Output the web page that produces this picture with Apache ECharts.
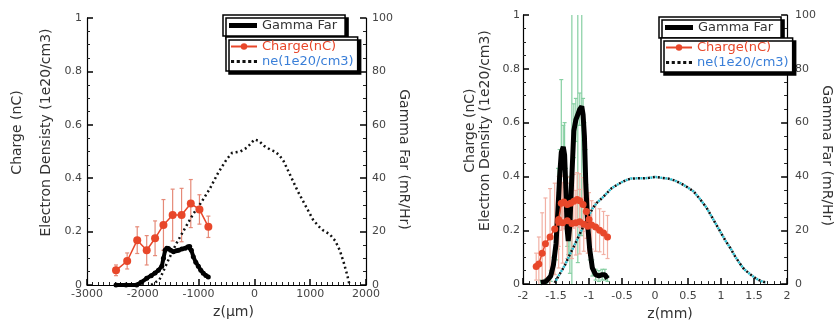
<!DOCTYPE html>
<html>
<head>
<meta charset="utf-8">
<script src="https://cdn.jsdelivr.net/npm/echarts@6/dist/echarts.min.js"></script>
<style>
  html, body { margin: 0; padding: 0; background: #fff; }
  #chart { width: 835px; height: 326px; }
</style>
</head>
<body>
<div id="chart"></div>
<script>
// left panel, z in um
const leftChargeZ = [-2480, -2280, -2100, -1930, -1780, -1630, -1465, -1305, -1140, -985, -825];
const leftChargeVal = [0.055, 0.09, 0.168, 0.13, 0.175, 0.225, 0.262, 0.262, 0.305, 0.283, 0.218];
const leftChargeErr = [0.02, 0.03, 0.05, 0.055, 0.065, 0.095, 0.097, 0.1, 0.09, 0.055, 0.04];

const leftGammaZ = [-2480, -2300, -2110, -2030, -1930, -1850, -1780, -1720, -1660, -1630, -1600, -1570, -1540, -1500, -1450,
  -1400, -1360, -1300, -1240, -1190, -1160, -1130, -1095, -1050, -1005, -960, -916, -870, -826];
const leftGammaVal = [0, 0, 0, 1, 2.5, 3.5, 4.5, 5.5, 7, 10, 13, 13.8, 13.7, 13, 12.5,
  12.8, 13, 13.5, 13.8, 14.3, 14.4, 13, 10.6, 8.5, 7, 5.5, 4.4, 3.6, 3];

const leftNeZ = [-1850, -1700, -1550, -1400, -1250, -1100, -950, -800, -650, -500, -400, -250, -130, 0, 80, 180, 300,
  370, 450, 520, 600, 690, 780, 870, 960, 1050, 1150, 1230, 1350, 1450, 1530, 1600, 1660, 1700];
const leftNeVal = [0, 0.02, 0.09, 0.155, 0.21, 0.265, 0.31, 0.36, 0.42, 0.47, 0.495, 0.5, 0.515, 0.545, 0.54, 0.52, 0.505,
  0.5, 0.485, 0.465, 0.43, 0.39, 0.35, 0.315, 0.28, 0.245, 0.22, 0.205, 0.19, 0.165, 0.13, 0.085, 0.04, 0.005];

// right panel, z in mm
const rightGammaZ = [-1.73, -1.65, -1.58, -1.54, -1.5, -1.47, -1.445, -1.42, -1.39, -1.37, -1.35, -1.33, -1.315, -1.29, -1.26,
  -1.23, -1.2, -1.17, -1.14, -1.11, -1.09, -1.07, -1.05, -1.02, -0.99, -0.95, -0.9, -0.85, -0.8, -0.76, -0.72];
const rightGammaVal = [0.5, 1, 3, 7, 15, 28, 40, 49, 51, 48, 35, 20, 16, 22, 40,
  57, 61, 63, 65, 66, 63, 55, 38, 22, 13, 6, 3.5, 3, 3.5, 3.5, 2];
const rightGammaErr = [1, 1, 2, 3, 6, 15, 10, 27, 8, 12, 8, 6, 5, 18, 70,
  10, 8, 55, 6, 48, 6, 5, 12, 5, 4, 3, 2, 2, 2, 2, 1];

const rightChargeZ = [-1.8, -1.76, -1.71, -1.66, -1.59, -1.52, -1.46, -1.4, -1.33, -1.26, -1.2, -1.14, -1.08, -1.02,
  -0.96, -0.9, -0.84, -0.78, -0.72];
const rightChargeVal = [0.065, 0.075, 0.115, 0.15, 0.175, 0.205, 0.23, 0.228, 0.235, 0.225, 0.228, 0.232, 0.222, 0.215,
  0.22, 0.212, 0.2, 0.19, 0.175];
const rightChargeErr = [0.05, 0.1, 0.15, 0.17, 0.18, 0.17, 0.17, 0.15, 0.14, 0.13, 0.12, 0.12, 0.1, 0.1,
  0.09, 0.09, 0.08, 0.08, 0.08];

const rightCharge2Z = [-1.46, -1.42, -1.38, -1.33, -1.28, -1.23, -1.18, -1.14, -1.09, -1.04, -1.0];
const rightCharge2Val = [0.24, 0.3, 0.305, 0.296, 0.3, 0.308, 0.314, 0.31, 0.296, 0.27, 0.24];
const rightCharge2Err = [0.1, 0.1, 0.1, 0.1, 0.1, 0.1, 0.1, 0.1, 0.1, 0.1, 0.1];

const rightNeZ = [-1.52, -1.45, -1.37, -1.3, -1.23, -1.16, -1.09, -1.01, -0.94, -0.87, -0.8, -0.73, -0.66, -0.58, -0.51,
  -0.44, -0.37, -0.28, -0.18, -0.09, 0.01, 0.1, 0.2, 0.3, 0.39, 0.49, 0.585, 0.68, 0.78, 0.85, 0.92, 0.99, 1.06, 1.14,
  1.21, 1.28, 1.35, 1.45, 1.54, 1.62, 1.68];
const rightNeVal = [0.005, 0.035, 0.068, 0.105, 0.14, 0.176, 0.212, 0.25, 0.284, 0.305, 0.32, 0.338, 0.356, 0.368, 0.378,
  0.386, 0.392, 0.393, 0.393, 0.395, 0.398, 0.395, 0.392, 0.385, 0.374, 0.36, 0.344, 0.316, 0.284, 0.254, 0.224, 0.194,
  0.164, 0.134, 0.104, 0.078, 0.055, 0.035, 0.019, 0.01, 0.006];

const RED = '#e8472a';
const FONT = 'DejaVu Sans';
const DOTS = 'path://M0,0h3v3h-3z M5.5,0h3v3h-3z M11,0h3v3h-3z M16.5,0h3v3h-3z M22,0h3v3h-3z';

const zip = (xs, ys) => xs.map((x, i) => [x, ys[i]]);
const errData = (xs, ys, es) => xs.map((x, i) => [x, ys[i] - es[i], ys[i] + es[i]]);

function errRender(cap) {
  return function (params, api) {
    const x = api.value(0);
    const a = api.coord([x, api.value(1)]);
    const b = api.coord([x, api.value(2)]);
    const style = { stroke: api.visual('color'), lineWidth: 1.2, fill: null };
    return {
      type: 'group',
      children: [
        { type: 'line', shape: { x1: a[0], y1: a[1], x2: b[0], y2: b[1] }, style: style },
        { type: 'line', shape: { x1: a[0] - cap, y1: a[1], x2: a[0] + cap, y2: a[1] }, style: style },
        { type: 'line', shape: { x1: b[0] - cap, y1: b[1], x2: b[0] + cap, y2: b[1] }, style: style }
      ]
    };
  };
}

const axisCommon = {
  axisLine: { show: true, onZero: false, lineStyle: { color: '#000', width: 1.2 } },
  axisTick: { show: true, inside: true, length: 6, lineStyle: { color: '#000', width: 1.5 } },
  minorTick: { show: true, length: 3, lineStyle: { color: '#222', width: 1 } },
  splitLine: { show: false },
  axisLabel: { color: '#444', fontSize: 11, fontFamily: FONT, formatter: v => String(v) },
  nameTextStyle: { color: '#333', fontSize: 14, fontFamily: FONT }
};

function legendBox(left, top, extra) {
  return Object.assign({
    left: left, top: top,
    orient: 'vertical',
    selectedMode: false,
    backgroundColor: '#fff',
    borderColor: '#000',
    borderWidth: 1.5,
    borderRadius: 0,
    shadowColor: '#000',
    shadowBlur: 0,
    shadowOffsetX: 3,
    shadowOffsetY: 3,
    textStyle: { fontSize: 13, fontFamily: FONT },
    itemGap: 2
  }, extra);
}

const neLegend = { name: 'ne(1e20/cm3)', icon: DOTS, textStyle: { color: '#3a7fd8' } };
const chargeLegend = { name: 'Charge(nC)', textStyle: { color: RED } };
const gammaLegend = { name: 'Gamma Far', icon: 'rect', textStyle: { color: '#333' } };

const minor = n => Object.assign({}, axisCommon.minorTick, { splitNumber: n });

const option = {
  animation: false,
  textStyle: { fontFamily: FONT },
  grid: [
    { left: 87, right: 469, top: 18, bottom: 41 },
    { left: 523, right: 33, top: 15, bottom: 34 }
  ],
  xAxis: [
    Object.assign({}, axisCommon, {
      gridIndex: 0, type: 'value', min: -3000, max: 2000, interval: 1000, minorTick: minor(10),
      axisLabel: Object.assign({}, axisCommon.axisLabel, { margin: 4 }),
      name: 'z(μm)', nameLocation: 'middle', nameGap: 20,
      nameTextStyle: Object.assign({}, axisCommon.nameTextStyle, { padding: [0, 0, 0, 14] })
    }),
    Object.assign({}, axisCommon, {
      gridIndex: 1, type: 'value', min: -2, max: 2, interval: 0.5, minorTick: minor(5),
      axisLabel: Object.assign({}, axisCommon.axisLabel, { margin: 7 }),
      name: 'z(mm)', nameLocation: 'middle', nameGap: 21,
      nameTextStyle: Object.assign({}, axisCommon.nameTextStyle, { padding: [0, 0, 0, 30] })
    })
  ],
  yAxis: [
    Object.assign({}, axisCommon, {
      gridIndex: 0, type: 'value', min: 0, max: 1, interval: 0.2, position: 'left', minorTick: minor(4),
      axisLabel: Object.assign({}, axisCommon.axisLabel, { margin: 5 }),
      name: 'Charge (nC)\nElectron Densisty (1e20/cm3)', nameLocation: 'middle', nameGap: 25,
      nameTextStyle: Object.assign({}, axisCommon.nameTextStyle, { lineHeight: 29, padding: [0, 0, 0, 38] })
    }),
    Object.assign({}, axisCommon, {
      gridIndex: 0, type: 'value', min: 0, max: 100, interval: 20, position: 'right', minorTick: minor(4),
      axisLabel: Object.assign({}, axisCommon.axisLabel, { margin: 6 }),
      name: 'Gamma Far (mR/Hr)', nameLocation: 'middle', nameGap: 28, nameRotate: -90,
      nameTextStyle: Object.assign({}, axisCommon.nameTextStyle, { padding: [0, 0, 0, 16] })
    }),
    Object.assign({}, axisCommon, {
      gridIndex: 1, type: 'value', min: 0, max: 1, interval: 0.2, position: 'left', minorTick: minor(4),
      axisLabel: Object.assign({}, axisCommon.axisLabel, { margin: 3 }),
      name: 'Charge (nC)\nElectron Density (1e20/cm3)', nameLocation: 'middle', nameGap: 30,
      nameTextStyle: Object.assign({}, axisCommon.nameTextStyle, { lineHeight: 15, padding: [0, 0, 0, 38] })
    }),
    Object.assign({}, axisCommon, {
      gridIndex: 1, type: 'value', min: 0, max: 100, interval: 20, position: 'right', minorTick: minor(4),
      axisLabel: Object.assign({}, axisCommon.axisLabel, { margin: 8 }),
      name: 'Gamma Far (mR/Hr)', nameLocation: 'middle', nameGap: 18, nameRotate: -90,
      nameTextStyle: Object.assign({}, axisCommon.nameTextStyle, { padding: [0, 0, 0, 12] })
    })
  ],
  legend: [
    legendBox(223, 15, { data: [gammaLegend], itemWidth: 28, itemHeight: 5, padding: [4, 8, 4, 6] }),
    legendBox(226, 37, { data: [chargeLegend, neLegend], itemWidth: 26, itemHeight: 8, padding: [3, 4] }),
    legendBox(659, 17, { data: [gammaLegend], itemWidth: 28, itemHeight: 5, padding: [4, 8, 4, 6] }),
    legendBox(661, 38, { data: [chargeLegend, neLegend], itemWidth: 26, itemHeight: 8, padding: [3, 4] })
  ],
  series: [
    // left panel
    {
      name: 'ne(1e20/cm3)', type: 'line', xAxisIndex: 0, yAxisIndex: 0, data: zip(leftNeZ, leftNeVal),
      symbol: 'none', color: '#111', lineStyle: { color: '#111', width: 2.5, type: [2, 3] }
    },
    {
      type: 'custom', xAxisIndex: 0, yAxisIndex: 0, renderItem: errRender(2),
      data: errData(leftChargeZ, leftChargeVal, leftChargeErr), itemStyle: { color: '#e58a78' },
      encode: { x: 0, y: [1, 2] }, z: 2
    },
    {
      name: 'Gamma Far', type: 'line', xAxisIndex: 0, yAxisIndex: 1, data: zip(leftGammaZ, leftGammaVal),
      symbol: 'circle', symbolSize: 5, color: '#000', lineStyle: { color: '#000', width: 4 }, z: 3
    },
    {
      name: 'Charge(nC)', type: 'line', xAxisIndex: 0, yAxisIndex: 0, data: zip(leftChargeZ, leftChargeVal),
      symbol: 'circle', symbolSize: 8, color: RED, lineStyle: { color: RED, width: 1.5 }, z: 4
    },
    // right panel
    {
      type: 'line', xAxisIndex: 1, yAxisIndex: 2, data: zip(rightNeZ, rightNeVal),
      symbol: 'none', lineStyle: { color: '#2bbfd0', width: 2.5, type: [2, 3], dashOffset: 2.5 }
    },
    {
      name: 'ne(1e20/cm3)', type: 'line', xAxisIndex: 1, yAxisIndex: 2, data: zip(rightNeZ, rightNeVal),
      symbol: 'none', color: '#111', lineStyle: { color: '#111', width: 2.5, type: [2, 3] }
    },
    {
      type: 'custom', xAxisIndex: 1, yAxisIndex: 3, renderItem: errRender(2), clip: true,
      data: errData(rightGammaZ, rightGammaVal, rightGammaErr), itemStyle: { color: '#86cfa2' },
      encode: { x: 0, y: [1, 2] }, z: 2
    },
    {
      type: 'custom', xAxisIndex: 1, yAxisIndex: 2, renderItem: errRender(2), clip: true,
      data: errData(rightChargeZ, rightChargeVal, rightChargeErr), itemStyle: { color: '#f2b0a4' },
      encode: { x: 0, y: [1, 2] }, z: 2
    },
    {
      type: 'custom', xAxisIndex: 1, yAxisIndex: 2, renderItem: errRender(2), clip: true,
      data: errData(rightCharge2Z, rightCharge2Val, rightCharge2Err), itemStyle: { color: '#f2b0a4' },
      encode: { x: 0, y: [1, 2] }, z: 2
    },
    {
      name: 'Gamma Far', type: 'line', xAxisIndex: 1, yAxisIndex: 3, data: zip(rightGammaZ, rightGammaVal),
      symbol: 'none', color: '#000', lineStyle: { color: '#000', width: 5 }, z: 3
    },
    {
      name: 'Charge(nC)', type: 'line', xAxisIndex: 1, yAxisIndex: 2, data: zip(rightChargeZ, rightChargeVal),
      symbol: 'circle', symbolSize: 7, color: RED, lineStyle: { color: RED, width: 1.5 }, z: 4
    },
    {
      name: 'Charge(nC)', type: 'line', xAxisIndex: 1, yAxisIndex: 2, data: zip(rightCharge2Z, rightCharge2Val),
      symbol: 'circle', symbolSize: 7, color: RED, lineStyle: { color: RED, width: 1.5 }, z: 4
    }
  ]
};

const chart = echarts.init(document.getElementById('chart'));
chart.setOption(option);
</script>
</body>
</html>
